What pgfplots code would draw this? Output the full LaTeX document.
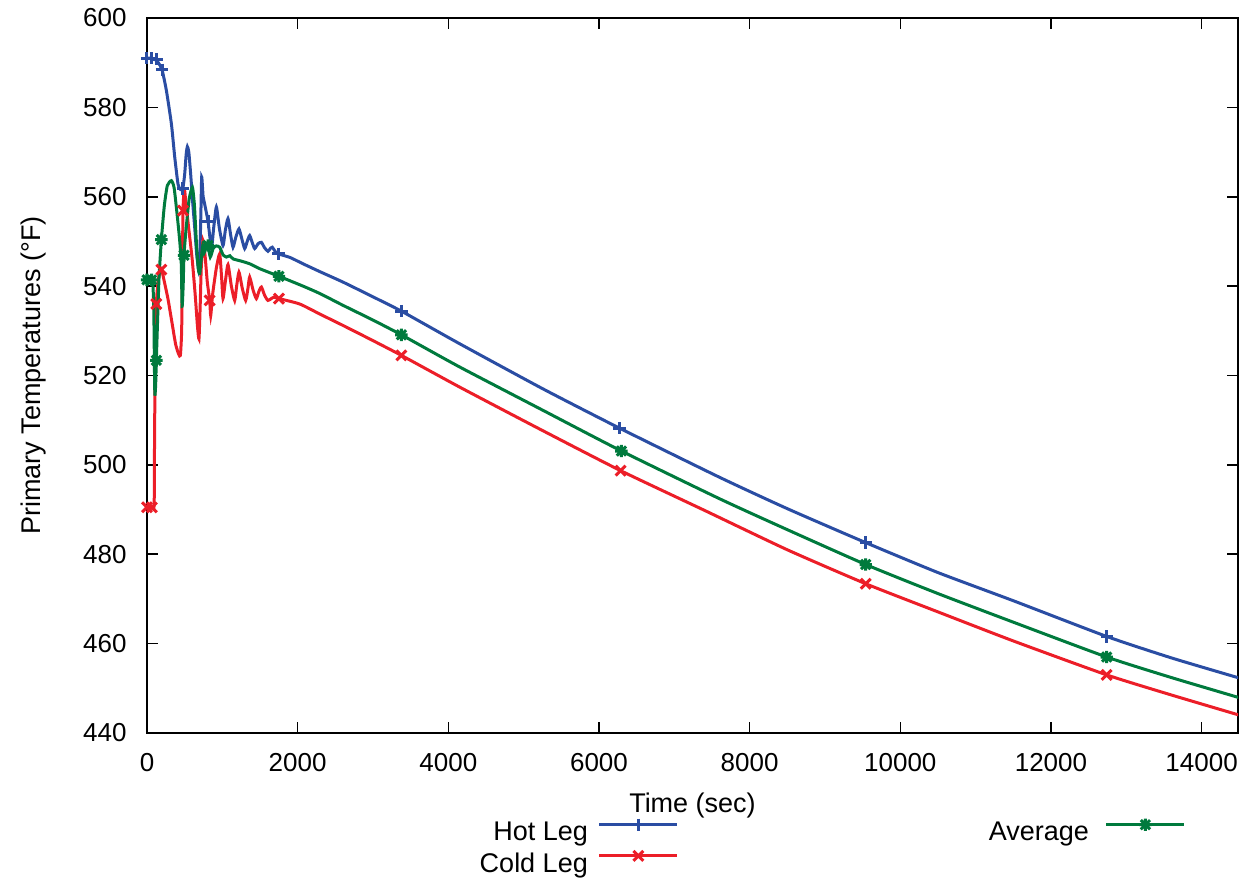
\documentclass[border=0pt]{standalone}
\usepackage{fontspec}
\setmainfont{Liberation Sans}
\usepackage{pgfplots}
\pgfplotsset{compat=1.18}
\definecolor{hotc}{RGB}{42,77,163}
\definecolor{coldc}{RGB}{236,30,40}
\definecolor{avgc}{RGB}{0,122,61}
\pgfdeclareplotmark{plusx}{%
  \pgfpathmoveto{\pgfqpoint{-\pgfplotmarksize}{0pt}}\pgfpathlineto{\pgfqpoint{\pgfplotmarksize}{0pt}}%
  \pgfpathmoveto{\pgfqpoint{0pt}{-\pgfplotmarksize}}\pgfpathlineto{\pgfqpoint{0pt}{\pgfplotmarksize}}%
  \pgfpathmoveto{\pgfqpoint{-0.75\pgfplotmarksize}{-0.75\pgfplotmarksize}}\pgfpathlineto{\pgfqpoint{0.75\pgfplotmarksize}{0.75\pgfplotmarksize}}%
  \pgfpathmoveto{\pgfqpoint{-0.75\pgfplotmarksize}{0.75\pgfplotmarksize}}\pgfpathlineto{\pgfqpoint{0.75\pgfplotmarksize}{-0.75\pgfplotmarksize}}%
  \pgfusepathqstroke}
\pgfdeclareplotmark{bigx}{%
  \pgfpathmoveto{\pgfqpoint{-0.8\pgfplotmarksize}{-0.8\pgfplotmarksize}}\pgfpathlineto{\pgfqpoint{0.8\pgfplotmarksize}{0.8\pgfplotmarksize}}%
  \pgfpathmoveto{\pgfqpoint{-0.8\pgfplotmarksize}{0.8\pgfplotmarksize}}\pgfpathlineto{\pgfqpoint{0.8\pgfplotmarksize}{-0.8\pgfplotmarksize}}%
  \pgfusepathqstroke}
\begin{document}
\begin{tikzpicture}[font=\fontsize{13}{15}\selectfont]
\begin{axis}[
  scale only axis, width=545.5pt, height=357.5pt,
  xmin=0, xmax=14483, ymin=440, ymax=600,
  xtick={0,2000,...,14000}, ytick={440,460,...,600},
  tick align=inside, major tick length=5.5pt,
  axis line style={line width=1pt},
  every tick/.style={black, line width=0.8pt},
  scaled x ticks=false,
  /pgf/number format/1000 sep={},
  /pgf/number format/assume math mode=true,
  x tick label style={font=\fontsize{13}{15}\selectfont, inner sep=0pt, anchor=north, yshift=-10pt},
  y tick label style={font=\fontsize{13}{15}\selectfont, inner sep=0pt, anchor=east, xshift=-10pt},
  xlabel={Time (sec)}, ylabel={Primary Temperatures (°F)},
  xlabel style={font=\fontsize{13.5}{15}\selectfont, at={(axis description cs:0.5,-0.1105)}, anchor=base},
  ylabel style={font=\fontsize{13.5}{15}\selectfont, at={(axis description cs:-0.1036,0.5)}, anchor=center},
  legend columns=2, legend plot pos=right, legend cell align=right,
  legend style={draw=none, fill=none, at={(axis description cs:0.305,-0.1196)}, anchor=north west,
    inner sep=0pt, outer sep=0pt, row sep=2.5pt,
    nodes={inner sep=0pt, text height=9.5pt, text depth=2.5pt, font=\fontsize{13.5}{15}\selectfont},
    /tikz/column 1/.style={column sep=5pt},
    /tikz/column 2/.style={column sep=155pt},
    /tikz/column 3/.style={column sep=8pt}},
  legend image code/.code={\draw[mark repeat=2,mark phase=2] plot coordinates {(0pt,4.6pt)(19.5pt,4.6pt)(39pt,4.6pt)};},
  every axis plot/.append style={line width=1.5pt, mark size=3.1pt},
]
% ---------------- Hot Leg ----------------
\addplot[hotc, no marks, smooth, tension=0.35, forget plot] coordinates {
(0,591.0)(50,591.0)(100,590.8)(150,590.0)(200,588.4)(257,583.8)(324,576.3)(368,568.9)(412,562.8)(445,561.6)(475,561.8)(500,565)(520,569.5)(536,571.2)(555,570)(580,565)(610,558)(633,553.2)(660,547)(688,543.5)(700,546)(715,556)(726,564.4)(745,560)(760,558.8)(810,554.5)(855,548.5)(885,553)(921,557.7)(960,553)(1009,549.1)(1040,552.5)(1075,555.1)(1110,551.5)(1142,548.7)(1180,551)(1221,552.8)(1260,550.5)(1297,548.4)(1330,550)(1363,551.3)(1400,549.6)(1430,548.4)(1475,549.5)(1519,549.8)(1560,548.6)(1606,547.8)(1640,548.5)(1664,548.7)(1700,547.8)(1748,547.2)(1900,546.4)(2071,545.0)(2300,543.2)(2602,540.9)(3000,537.6)(3377,534.4)(4151,527.1)(5257,517.0)(6275,508.2)(7603,497.2)(8500,490.2)(9541,482.6)(10500,475.9)(11500,469.6)(12740,461.6)(13600,456.8)(14500,452.3)};
\addplot[hotc, only marks, mark=+, forget plot] coordinates {
(0,591.0)(65,591.0)(125,590.8)(200,588.4)(475,561.8)(810,554.5)(1748,547.2)(3377,534.4)(6275,508.2)(9541,482.6)(12740,461.6)};
% ---------------- Cold Leg ----------------
\addplot[coldc, no marks, smooth, tension=0.35, forget plot] coordinates {
(0,490.5)(50,490.5)(75,490.6)(95,491)(100,505)(105,516)(110,525)(124,536)(150,541.5)(191,543.7)(230,541)(280,537)(330,532)(380,527)(420,524.8)(443,524.5)(460,530)(470,545)(478,556.9)(490,561)(500,561.4)(520,558)(560,552)(600,546)(640,538)(670,531)(690,528.2)(705,535)(720,544)(743,550.2)(770,547)(800,541)(832,536.8)(846,533.4)(870,538)(920,544)(965,547.2)(990,542)(1009,537.2)(1040,541)(1075,544.8)(1120,540)(1164,536.8)(1190,540)(1221,543.1)(1265,539.5)(1310,536.8)(1340,539.5)(1363,542)(1410,539)(1452,537.2)(1485,538.8)(1519,539.8)(1560,538)(1606,536.8)(1680,537.5)(1752,537.2)(2027,536.0)(2300,533.7)(2602,531.2)(3000,527.8)(3377,524.5)(4151,517.4)(5169,508.4)(6288,498.7)(7403,489.8)(8500,481.0)(9541,473.4)(10500,467.1)(11500,460.6)(12740,453.0)(13600,448.5)(14500,444.0)};
\addplot[coldc, only marks, mark=bigx, forget plot] coordinates {
(0,490.5)(65,490.5)(124,536)(191,543.7)(478,556.9)(832,536.8)(1752,537.2)(3377,524.5)(6288,498.7)(9541,473.4)(12740,453.0)};
% ---------------- Average ----------------
\addplot[avgc, no marks, smooth, tension=0.35, forget plot] coordinates {
(0,541.4)(50,541.4)(75,541.2)(90,535)(100,520)(105,515.5)(115,518)(124,523.4)(140,532)(160,542)(191,550.4)(230,558)(270,562.5)(324,563.6)(360,562)(400,556)(434,550.2)(455,545)(466,535.5)(480,540)(491,546.9)(520,553)(560,559.5)(603,562.1)(630,558)(655,550)(680,544)(700,542.8)(720,546)(740,549)(760,547.5)(790,549)(810,549.1)(840,546.5)(880,548.5)(920,549)(965,548.7)(1010,547)(1054,546.5)(1100,546.8)(1142,546.1)(1250,545.6)(1363,545.0)(1496,543.9)(1752,542.2)(2071,540.0)(2300,538.3)(2602,535.7)(3000,532.4)(3377,529.1)(4151,521.9)(5257,512.2)(6298,503.1)(7603,492.4)(8500,485.5)(9541,477.7)(10500,471.2)(11500,464.8)(12740,457.0)(13600,452.4)(14500,447.9)};
\addplot[avgc, only marks, mark=plusx, forget plot] coordinates {
(0,541.4)(60,541.4)(124,523.4)(191,550.4)(491,546.9)(810,549.1)(1752,542.2)(3377,529.1)(6298,503.1)(9541,477.7)(12740,457.0)};
% ---------------- Legend ----------------
\addlegendimage{hotc, line width=1.5pt, mark=+, mark size=3.1pt}
\addlegendentry{Hot Leg}
\addlegendimage{avgc, line width=1.5pt, mark=plusx, mark size=3.1pt}
\addlegendentry{Average}
\addlegendimage{coldc, line width=1.5pt, mark=bigx, mark size=3.1pt}
\addlegendentry{Cold Leg}
\coordinate (sw) at (rel axis cs:0,0);
\end{axis}
\path ([shift={(-73.5pt,-75pt)}]sw) rectangle ++(628.5pt,441.5pt);
\end{tikzpicture}
\end{document}
